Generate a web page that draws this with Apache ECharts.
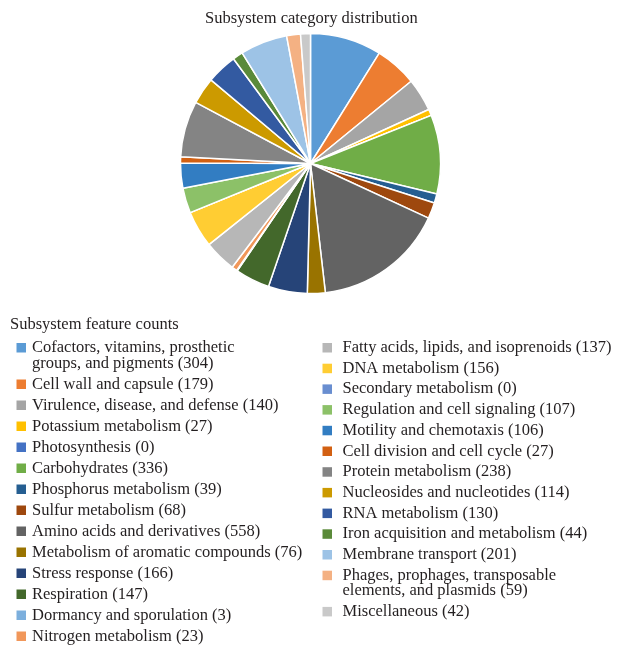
<!DOCTYPE html>
<html>
<head>
<meta charset="utf-8">
<script src="https://cdn.jsdelivr.net/npm/echarts@6/dist/echarts.min.js"></script>
<style>
  html, body { margin: 0; padding: 0; background: #ffffff; }
  #chart { width: 618px; height: 651px; }
</style>
</head>
<body>
<div id="chart"></div>
<script>
const categories = [
  'Cofactors, vitamins, prosthetic groups, and pigments',
  'Cell wall and capsule',
  'Virulence, disease, and defense',
  'Potassium metabolism',
  'Photosynthesis',
  'Carbohydrates',
  'Phosphorus metabolism',
  'Sulfur metabolism',
  'Amino acids and derivatives',
  'Metabolism of aromatic compounds',
  'Stress response',
  'Respiration',
  'Dormancy and sporulation',
  'Nitrogen metabolism',
  'Fatty acids, lipids, and isoprenoids',
  'DNA metabolism',
  'Secondary metabolism',
  'Regulation and cell signaling',
  'Motility and chemotaxis',
  'Cell division and cell cycle',
  'Protein metabolism',
  'Nucleosides and nucleotides',
  'RNA metabolism',
  'Iron acquisition and metabolism',
  'Membrane transport',
  'Phages, prophages, transposable elements, and plasmids',
  'Miscellaneous'
];
const counts = [304, 179, 140, 27, 0, 336, 39, 68, 558, 76, 166, 147, 3, 23,
                137, 156, 0, 107, 106, 27, 238, 114, 130, 44, 201, 59, 42];
const colors = [
  '#5B9BD5', '#ED7D31', '#A5A5A5', '#FFC000', '#4472C4', '#70AD47',
  '#255E91', '#9E480E', '#636363', '#997300', '#264478', '#43682B',
  '#7CAFDD', '#F1975A', '#B7B7B7', '#FFCD33', '#698ED0', '#8CC168',
  '#327DC2', '#D26012', '#848484', '#CC9A00', '#335AA1', '#5A8A39',
  '#9DC3E6', '#F4B183', '#C9C9C9'
];
const chartTitle = 'Subsystem category distribution';
const legendTitle = 'Subsystem feature counts';
const wrapAfter = {
  'Cofactors, vitamins, prosthetic groups, and pigments': 'prosthetic',
  'Phages, prophages, transposable elements, and plasmids': 'transposable'
};
const leftNames = categories.slice(0, 14);
const rightNames = categories.slice(14);

const FONT = '"Liberation Serif", "Times New Roman", serif';
const TEXT_COLOR = '#231F20';
const FS = 16.5;
const LH = 15.5;

function legendData(names, gap) {
  return names.map(function (n) {
    const i = categories.indexOf(n);
    return {
      name: n,
      textStyle: {
        fontFamily: FONT,
        fontSize: FS,
        color: TEXT_COLOR,
        lineHeight: LH,
        rich: {
          sq: { width: 9.5, height: 9.5, lineHeight: LH, backgroundColor: colors[i] },
          sp: { width: gap, lineHeight: LH },
          ind: { width: 9.5 + gap, lineHeight: LH },
          t: { fontFamily: FONT, fontSize: FS, color: TEXT_COLOR, lineHeight: LH }
        }
      }
    };
  });
}
function legendFormatter(name) {
  const i = categories.indexOf(name);
  const full = name + ' (' + counts[i] + ')';
  const w = wrapAfter[name];
  if (w) {
    const k = full.indexOf(w) + w.length;
    return '{sq|}{sp|}{t|' + full.slice(0, k) + '}\n{ind|}{t|' + full.slice(k + 1) + '}';
  }
  return '{sq|}{sp|}{t|' + full + '}';
}
function makeLegend(names, left, gap, itemGap) {
  return {
    orient: 'vertical',
    left: left,
    top: 339.25,
    padding: 0,
    itemGap: itemGap,
    itemWidth: 0,
    itemHeight: 0,
    itemStyle: { opacity: 0 },
    selectedMode: false,
    data: legendData(names, gap),
    formatter: legendFormatter,
    textStyle: {
      fontFamily: FONT,
      fontSize: FS,
      color: TEXT_COLOR,
      lineHeight: LH
    }
  };
}

const chart = echarts.init(document.getElementById('chart'), null, { renderer: 'canvas' });
chart.setOption({
  animation: false,
  color: colors,
  title: [
    {
      text: chartTitle,
      left: 200,
      top: 5,
      textStyle: { fontFamily: FONT, fontSize: FS, fontWeight: 'normal', color: TEXT_COLOR }
    },
    {
      text: legendTitle,
      left: 10,
      top: 316,
      padding: 0,
      textStyle: { fontFamily: FONT, fontSize: FS, fontWeight: 'normal', color: TEXT_COLOR }
    }
  ],
  legend: [
    makeLegend(leftNames, 10.5, 6, 4.0),
    makeLegend(rightNames, 316.5, 10.5, 3.7)
  ],
  series: [
    {
      type: 'pie',
      center: [310.5, 163.5],
      radius: 130,
      startAngle: 90,
      clockwise: true,
      label: { show: false },
      labelLine: { show: false },
      emphasis: { disabled: true },
      itemStyle: { borderColor: '#ffffff', borderWidth: 1.5 },
      data: categories.map(function (n, i) { return { name: n, value: counts[i] }; })
    }
  ]
});
</script>
</body>
</html>
